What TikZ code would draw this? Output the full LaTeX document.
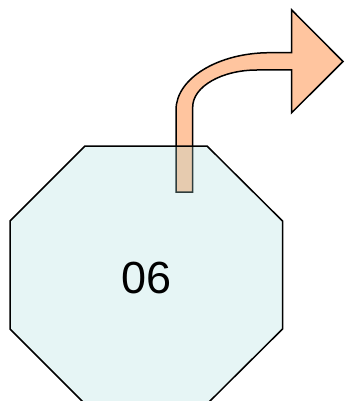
\documentclass[tikz,border=0pt]{standalone}
\usepackage{fontspec}
\setmainfont{Liberation Sans}
\begin{document}
\begin{tikzpicture}[x=1pt, y=-1pt]
  % Colors
  \definecolor{blank}{HTML}{ffffff}
  \definecolor{outline}{HTML}{000000}
  \definecolor{arrowfill}{HTML}{ffc59f}
  \definecolor{octfill}{HTML}{a8dcdc}

  % Configurations
  \tikzset{stroke/.style={line width=1.5pt, draw=outline, line join=miter}}

  % Drawing objects
  \newcommand{\bentarrow}{%
    -- (176,110)
    .. controls (176,78.4) and (218.1,52.7) .. (270,52.7)
    -- (291.7,52.7)
    -- (291.7,10)
    -- (343,61.5)
    -- (291.7,112.7)
    -- (291.7,70)
    -- (257,70)
    .. controls (221.7,70) and (192.7,86.6) .. (192.7,107)
    -- (192.7,192)
    -- cycle
  }
  \newcommand{\octoutline}{%
    -- (207,146)
    -- (282.5,221)
    -- (282.5,329)
    -- (207,404)
    -- (85,404)
    -- (10,329)
    -- (10,221)
    -- cycle
  }

  % Bounding box
  \useasboundingbox (0,0) rectangle (345,401);
  \clip [preaction={fill=blank}] (0,0) rectangle (345,401);

  % Arrow
  \draw [stroke, fill=arrowfill] (176,192) \bentarrow;
  % Octagon
  \draw [stroke, fill=octfill, fill opacity=.28] (85,146) \octoutline;
  % Number
  \node (num) at (146.5,278) {\fontsize{45}{54}\selectfont 06};
\end{tikzpicture}
\end{document}
